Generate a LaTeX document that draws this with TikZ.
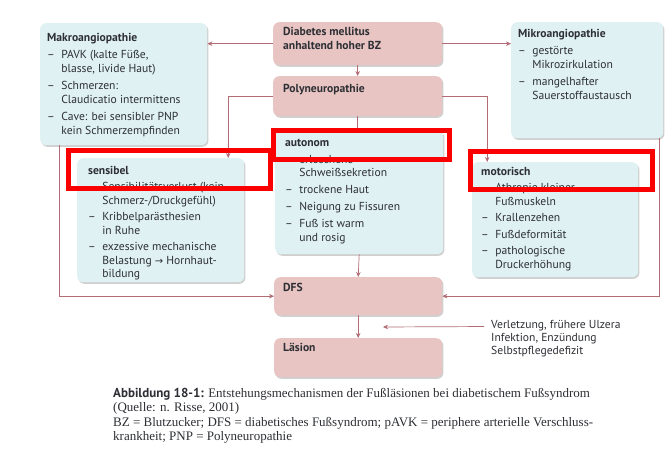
\documentclass[tikz,border=0pt]{standalone}
\usepackage{fontspec}
\setmainfont{Liberation Serif}
\setsansfont{PT Sans}
\newfontfamily\symfont{DejaVu Sans}
\usetikzlibrary{shadows,arrows.meta}
\definecolor{pinkf}{RGB}{232,197,195}
\definecolor{bluef}{RGB}{223,241,243}
\definecolor{txtc}{RGB}{45,47,52}
\definecolor{linec}{RGB}{178,108,116}
\definecolor{hlred}{RGB}{250,0,0}
\newcommand\boxfont{\sffamily\fontsize{11.6}{13.5}\selectfont}
\tikzset{
  basebox/.style={rounded corners=6pt, anchor=north west, inner sep=0pt,
    drop shadow={shadow xshift=1.2pt, shadow yshift=-1.6pt, opacity=0.3, fill=black!60}},
  pinkbox/.style={basebox, fill=pinkf},
  bluebox/.style={basebox, fill=bluef},
  txt/.style={anchor=north west, inner sep=0pt, text=txtc, font=\boxfont, align=left},
  conn/.style={draw=linec, line width=0.7pt},
  arr/.style={conn, -{Stealth[length=5pt,width=4.5pt]}},
  hl/.style={draw=hlred, line width=5pt}
}
\begin{document}
\begin{tikzpicture}[x=1pt,y=-1pt]
\useasboundingbox[fill=white] (0,0) rectangle (665,468);
% boxes
\node[bluebox, minimum width=167pt, minimum height=122pt] (makro) at (40,23) {};
\node[pinkbox, minimum width=169pt, minimum height=43pt] (dm) at (273,22) {};
\node[bluebox, minimum width=152pt, minimum height=116pt] (mikro) at (511,22) {};
\node[pinkbox, minimum width=169pt, minimum height=40pt] (pnp) at (273,76) {};
\node[bluebox, minimum width=168pt, minimum height=124pt] (auto) at (275,130) {};
\node[bluebox, minimum width=167pt, minimum height=124pt] (sens) at (77,158) {};
\node[bluebox, minimum width=166pt, minimum height=115pt] (moto) at (472,162) {};
\node[pinkbox, minimum width=168pt, minimum height=38pt] (dfs) at (274,277) {};
\node[pinkbox, minimum width=168pt, minimum height=39pt] (lae) at (274,338) {};
% texts
\node[txt] (makrot) at (47,31.5) {\begin{tabular}{@{}l@{\hspace{6.5pt}}l@{}}
\multicolumn{2}{@{}l@{}}{\bfseries Makroangiopathie}\\[4pt]
–&PAVK (kalte Füße,\\
&blasse, livide Haut)\\[4pt]
–&Schmerzen:\\
&Claudicatio intermittens\\[4pt]
–&Cave: bei sensibler PNP\\
&kein Schmerzempfinden
\end{tabular}};
\node[txt] (dmt) at (283,27.5) {\bfseries Diabetes mellitus\\\bfseries anhaltend hoher BZ};
\node[txt] (mikrot) at (518,27.5) {\begin{tabular}{@{}l@{\hspace{6.5pt}}l@{}}
\multicolumn{2}{@{}l@{}}{\bfseries Mikroangiopathie}\\[4pt]
–&gestörte\\
&Mikrozirkulation\\[4pt]
–&mangelhafter\\
&Sauerstoffaustausch
\end{tabular}};
\node[txt] (pnpt) at (283,84) {\bfseries Polyneuropathie};
\node[txt] (autot) at (285,136.5) {\begin{tabular}{@{}l@{\hspace{6.5pt}}l@{}}
\multicolumn{2}{@{}l@{}}{\bfseries autonom}\\[3.5pt]
–&erloschene\\
&Schweißsekretion\\[3.5pt]
–&trockene Haut\\[3.5pt]
–&Neigung zu Fissuren\\[3.5pt]
–&Fuß ist warm\\
&und rosig
\end{tabular}};
\node[txt] (senst) at (88,164.5) {\begin{tabular}{@{}l@{\hspace{6.5pt}}l@{}}
\multicolumn{2}{@{}l@{}}{\bfseries sensibel}\\[3pt]
–&Sensibilitätsverlust (kein\\
&Schmerz-/Druckgefühl)\\[3pt]
–&Kribbelparästhesien\\
&in Ruhe\\[3pt]
–&exzessive mechanische\\
&Belastung {\symfont\fontsize{10}{13.5}\selectfont →} Hornhaut-\\
&bildung
\end{tabular}};
\node[txt] (motot) at (481,165.5) {\begin{tabular}{@{}l@{\hspace{6.5pt}}l@{}}
\multicolumn{2}{@{}l@{}}{\bfseries motorisch}\\[3pt]
–&Athropie kleiner\\
&Fußmuskeln\\[3pt]
–&Krallenzehen\\[3pt]
–&Fußdeformität\\[3pt]
–&pathologische\\
&Druckerhöhung
\end{tabular}};
\node[txt] (dfst) at (283,283.5) {\bfseries DFS};
\node[txt] (laet) at (283,342.5) {\bfseries Läsion};
\node[txt, font=\sffamily\fontsize{11.6}{13}\selectfont] (ann) at (491,320) {Verletzung, frühere Ulzera\\Infektion, Enzündung\\Selbstpflegedefizit};
\coordinate (annend) at (383,327);
% connectors
\draw[arr] (dm.west) -- (dm.west -| makro.east);
\draw[arr] (dm.east) -- (dm.east -| mikro.west);
\draw[arr] (dm.south) -- (pnp.north);
\draw[arr] (pnp.west) -| ([xshift=67.5pt]sens.north);
\draw[arr] (pnp.east) -| ([xshift=-68pt]moto.north);
\draw[conn] (pnp.south) -- (pnp.south |- auto.north);
\draw[arr] ([xshift=-64.5pt]makro.south) |- (dfs.west);
\draw[arr] ([xshift=72pt]mikro.south) |- (dfs.east);
\draw[arr] (auto.south) -- (dfs.north);
\draw[arr] (dfs.south) -- (lae.north);
\draw[arr] ([xshift=-7pt,yshift=12pt]ann.west) -- (annend);
% caption
\node[anchor=north west, inner sep=0pt, text=txtc, align=left,
  font=\fontsize{13}{14.5}\selectfont] (cap) at (113,388)
  {\textsf{\bfseries Abbildung 18-1:} Entstehungsmechanismen der Fußläsionen bei diabetischem Fußsyndrom\\
  (Quelle: n. Risse, 2001)\\
  BZ = Blutzucker; DFS = diabetisches Fußsyndrom; pAVK = periphere arterielle Verschluss-\\
  krankheit; PNP = Polyneuropathie};
% highlight frames
\draw[hl] (68,151) rectangle (270,189);
\draw[hl] (273,131) rectangle (449,160);
\draw[hl] (470,152) rectangle (652,190);
\end{tikzpicture}
\end{document}
